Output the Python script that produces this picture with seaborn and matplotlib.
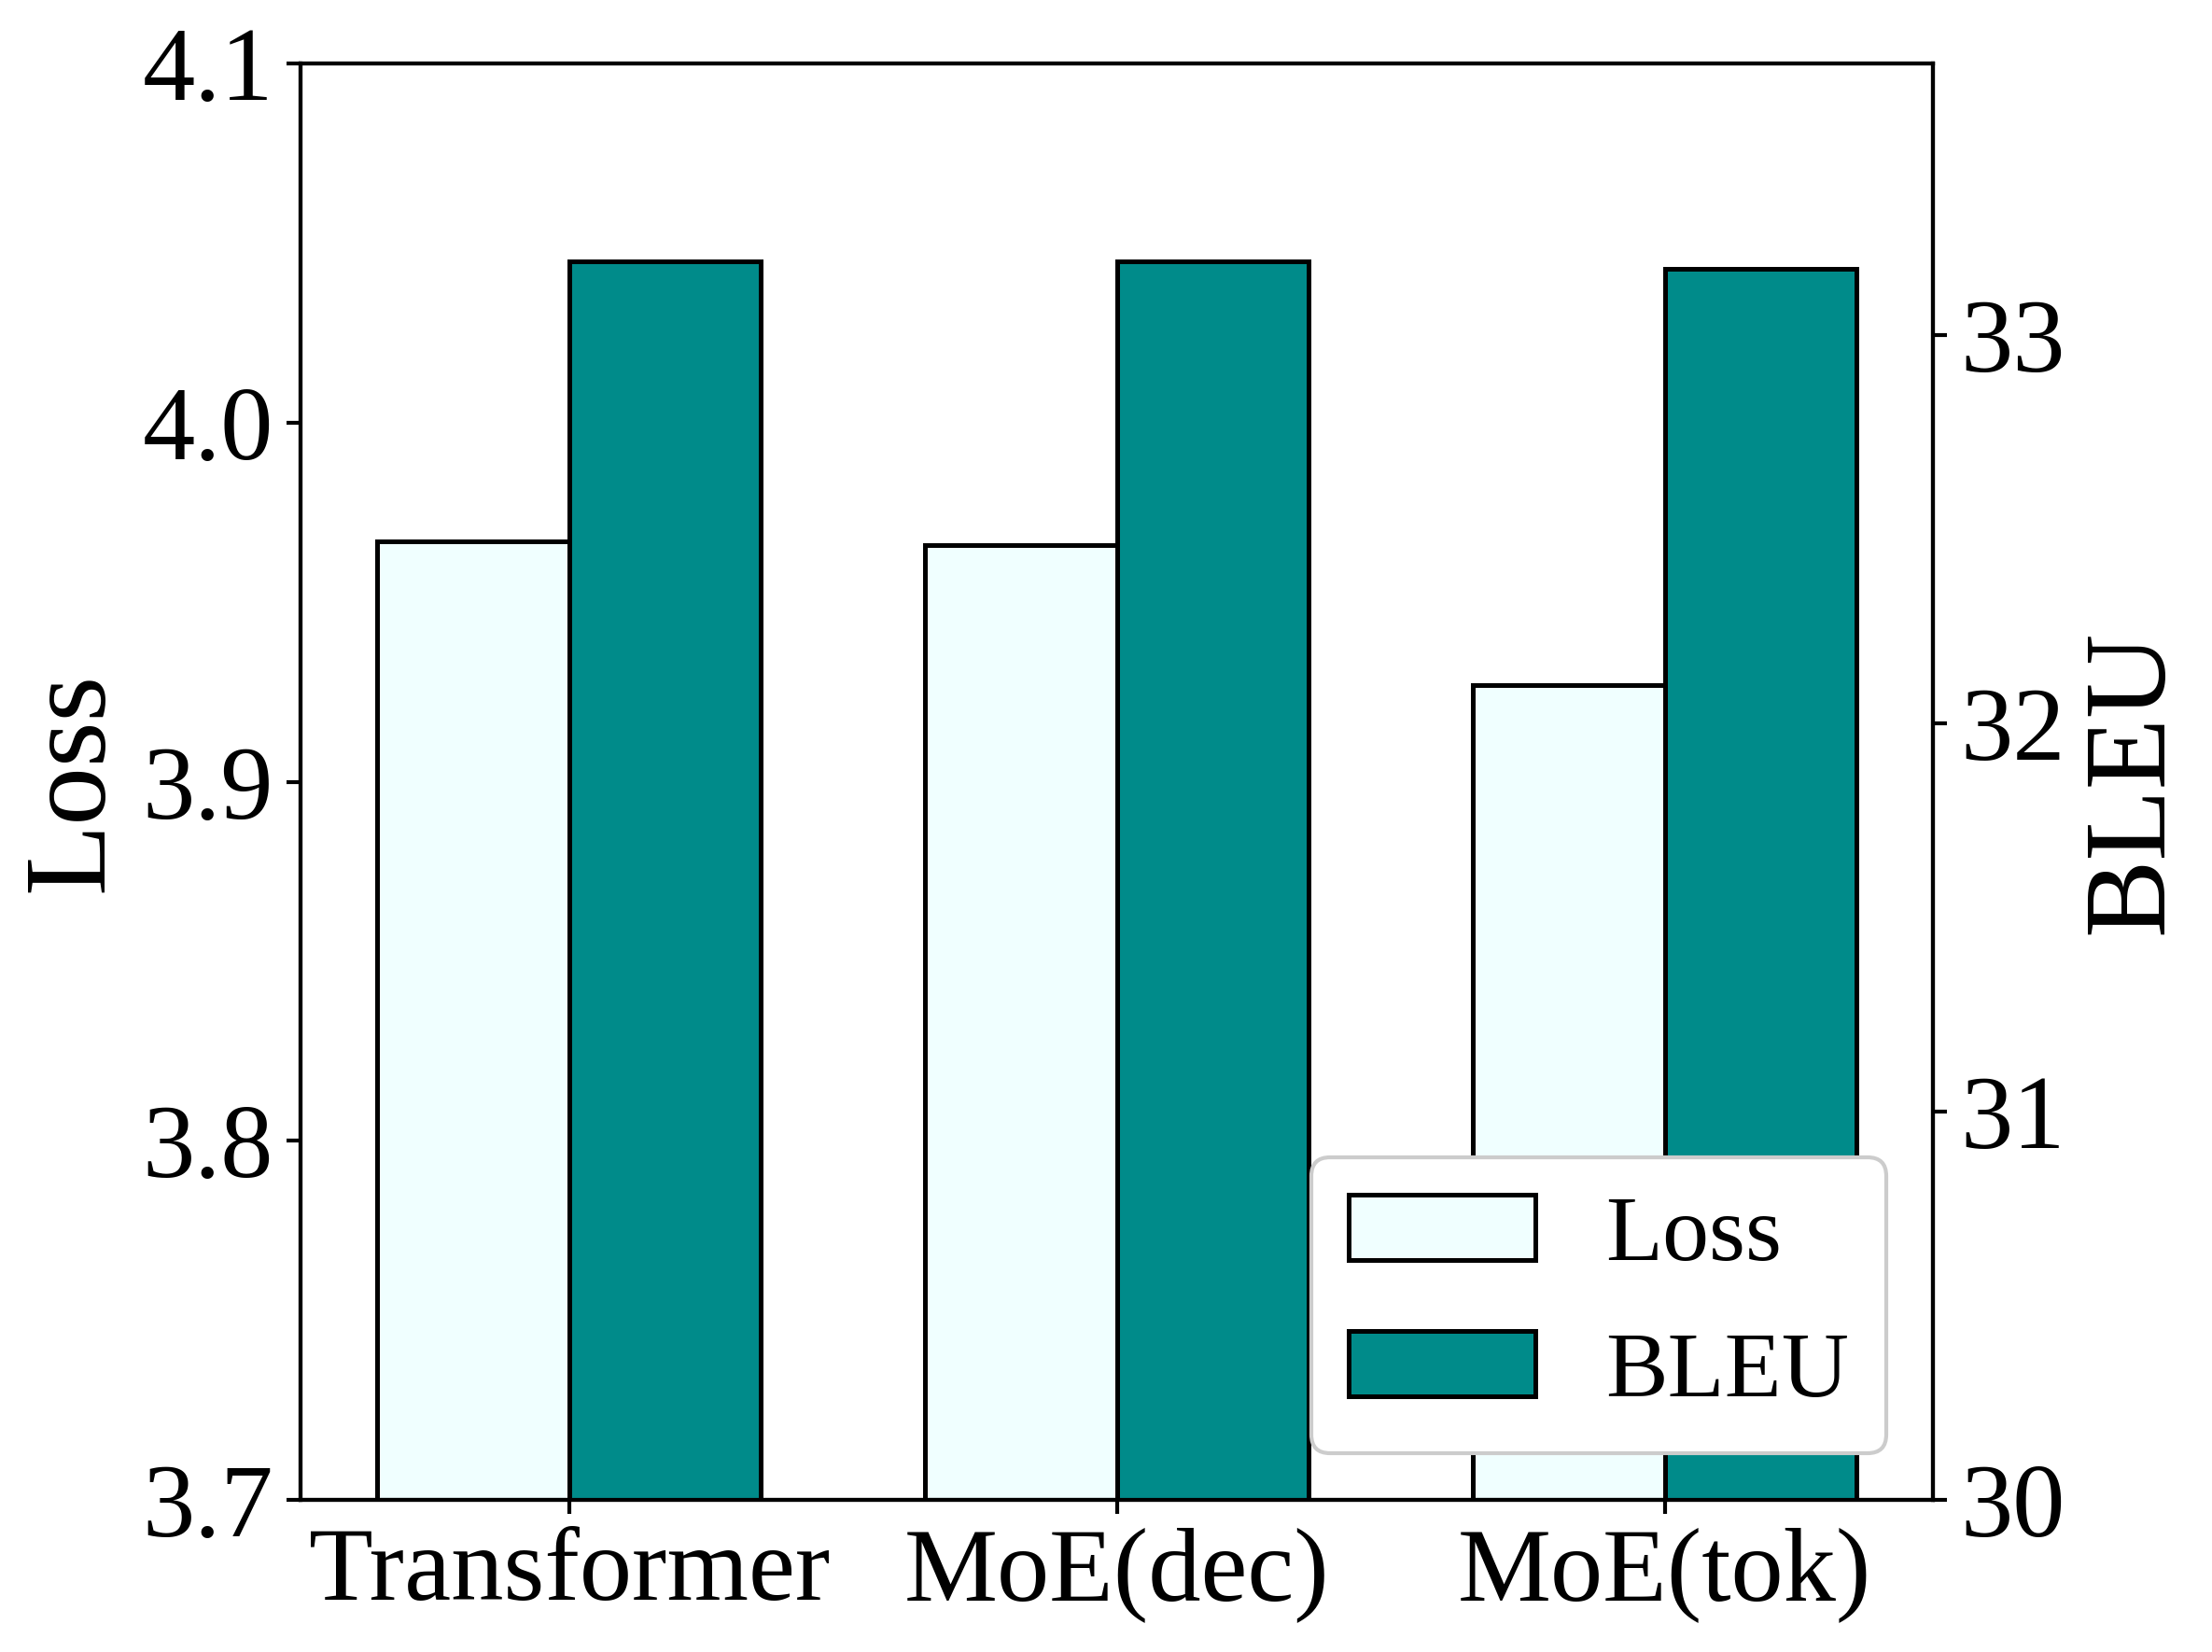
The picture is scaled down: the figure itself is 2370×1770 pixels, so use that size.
import numpy as np
import pandas as pd
import matplotlib
matplotlib.use("Agg")
import matplotlib.pyplot as plt
from matplotlib.patches import Patch
import seaborn as sns

# values
models = ["Transformer", "MoE(dec)", "MoE(tok)"]
loss = [3.967, 3.966, 3.927]
bleu = [33.19, 33.19, 33.17]

loss_color = "#F0FFFF"
bleu_color = "#008B8A"

sns.set_style("ticks")
plt.rcParams["font.family"] = ["Liberation Serif", "DejaVu Serif"]
for key in ("text.color", "axes.labelcolor", "xtick.color", "ytick.color"):
    plt.rcParams[key] = "black"

hue_order = ["Loss", "BLEU"]
df = pd.DataFrame({
    "model": models * 2,
    "metric": pd.Categorical(["Loss"] * 3 + ["BLEU"] * 3, categories=hue_order),
    "loss": loss + [np.nan] * 3,
    "bleu": [np.nan] * 3 + bleu,
})
palette = {"Loss": loss_color, "BLEU": bleu_color}

fig, ax1 = plt.subplots(figsize=(7.9, 5.9), dpi=300)
fig.subplots_adjust(left=0.136, right=0.874, top=0.9616, bottom=0.092)

sns.barplot(data=df, x="model", y="loss", hue="metric", hue_order=hue_order,
            order=models, palette=palette, width=0.7, edgecolor="black",
            linewidth=1.2, saturation=1, legend=False, ax=ax1)
ax1.set_ylim(3.7, 4.1)
ax1.set_yticks([3.7, 3.8, 3.9, 4.0, 4.1])
ax1.set_ylabel("Loss", fontsize=30)
ax1.set_xlabel("")

ax2 = ax1.twinx()
sns.barplot(data=df, x="model", y="bleu", hue="metric", hue_order=hue_order,
            order=models, palette=palette, width=0.7, edgecolor="black",
            linewidth=1.2, saturation=1, legend=False, ax=ax2)
ax2.set_ylim(30, 33.7)
ax2.set_yticks([30, 31, 32, 33])
ax2.set_ylabel("BLEU", fontsize=30)
ax2.set_xlabel("")
ax2.set_xlim(-0.49, 2.49)

for ax in (ax1, ax2):
    ax.tick_params(axis="both", labelsize=27, width=1.0)
    for sp in ax.spines.values():
        sp.set_linewidth(1.0)
        sp.set_color("black")

handles = [Patch(facecolor=loss_color, edgecolor="black", linewidth=1.2, label="Loss"),
           Patch(facecolor=bleu_color, edgecolor="black", linewidth=1.2, label="BLEU")]
ax2.legend(handles=handles, loc="lower right", fontsize=24, framealpha=1,
           handlelength=2.0, handleheight=0.7, labelspacing=0.55,
           handletextpad=0.75, borderpad=0.4)

fig.savefig("out.png", dpi=300)
